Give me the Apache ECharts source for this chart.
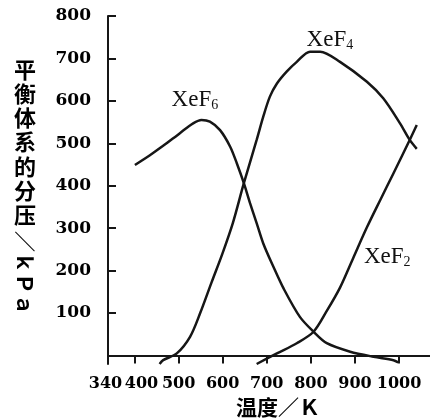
<!DOCTYPE html>
<html>
<head>
<meta charset="utf-8">
<script src="https://cdn.jsdelivr.net/npm/echarts@6/dist/echarts.min.js"></script>
<style>
  html, body { margin: 0; padding: 0; background: #fff; }
  #chart { width: 430px; height: 418px; }
</style>
</head>
<body>
<div id="chart"></div>
<script>
  // 温度 (K) / 分压 (kPa)
  const xef6T = [401, 435, 465, 503, 533, 552, 571, 594, 617, 632, 648, 662, 677, 692, 715, 738, 775, 806, 836, 889, 942, 987, 998]
  const xef6P = [449, 472, 494, 524, 547, 555, 551, 531, 492, 453, 406, 359, 312, 264, 209, 158, 91, 56, 29, 9, -3, -11, -16]

  const xef4T = [457, 465, 496, 526, 549, 575, 599, 623, 648, 677, 692, 707, 723, 745, 768, 798, 821, 866, 927, 964, 1002, 1024, 1040]
  const xef4P = [-20, -11, 5, 44, 100, 173, 239, 312, 406, 508, 563, 610, 641, 669, 692, 716, 716, 692, 645, 606, 547, 508, 487]

  const xef2T = [677, 723, 768, 806, 836, 866, 896, 927, 957, 987, 1024, 1040]
  const xef2P = [-20, 5, 29, 56, 105, 160, 230, 302, 366, 429, 508, 543]

  const subscripts = ['6', '4', '2']
  const seriesNames = subscripts.map((s) => 'XeF' + s)
  // 曲线名的位置（数据坐标）
  const nameAt = [[537, 602], [843, 743], [973, 232]]

  const xTicks = [340, 400, 500, 600, 700, 800, 900, 1000]
  const yTicks = [100, 200, 300, 400, 500, 600, 700, 800]

  const zip = (a, b) => a.map((v, i) => [v, b[i]])
  const curves = [zip(xef6T, xef6P), zip(xef4T, xef4P), zip(xef2T, xef2P)]

  const numFont = '"DejaVu Serif", serif'
  const cjkFont = '"Noto Sans CJK SC", sans-serif'
  const ink = '#161616'

  const chart = echarts.init(document.getElementById('chart'))

  const numStyle = { fontFamily: numFont, fontWeight: 'bold', fontSize: 16, color: '#000' }

  const option = {
    animation: false,
    backgroundColor: '#fff',
    grid: {
      left: 108,
      right: 0,
      top: 16,
      bottom: 54,
      containLabel: false,
      outerBoundsMode: 'none'
    },
    xAxis: {
      type: 'value',
      min: 340,
      max: 1070,
      splitLine: { show: false },
      axisLine: { show: true, lineStyle: { color: ink, width: 2 } },
      axisTick: {
        show: true,
        inside: false,
        length: 8,
        customValues: xTicks.slice(1),
        lineStyle: { color: ink, width: 2 }
      },
      axisLabel: {
        customValues: xTicks,
        margin: 12,
        ...numStyle,
        formatter: (v) => {
          if (v === 340) return '{l|340}'
          if (v === 400) return '{r|400}'
          return String(v)
        },
        rich: {
          l: { ...numStyle, padding: [0, 5, 0, 0] },
          r: { ...numStyle, padding: [0, 0, 0, 14] }
        }
      },
      name: '温度／Ｋ',
      nameLocation: 'middle',
      nameGap: 28,
      nameTextStyle: {
        fontFamily: cjkFont,
        fontWeight: 'bold',
        fontSize: 21,
        color: '#000',
        padding: [0, 0, 0, 18]
      }
    },
    yAxis: {
      type: 'value',
      min: -20,
      max: 800,
      splitLine: { show: false },
      axisLine: { show: true, lineStyle: { color: ink, width: 2 } },
      axisTick: {
        show: true,
        inside: true,
        length: 8,
        customValues: yTicks,
        lineStyle: { color: ink, width: 2 }
      },
      axisLabel: {
        customValues: yTicks,
        margin: 17,
        ...numStyle,
        fontSize: 17
      }
    },
    graphic: [
      {
        type: 'text',
        x: 25,
        y: 57,
        style: {
          text: '平\n衡\n体\n系\n的\n分\n压',
          font: 'bold 22px ' + cjkFont,
          lineHeight: 24.3,
          textAlign: 'center',
          textVerticalAlign: 'top',
          fill: '#000'
        }
      },
      {
        type: 'text',
        x: 25,
        y: 231,
        rotation: -Math.PI / 2,
        style: {
          text: '／ｋＰａ',
          font: 'bold 21px ' + cjkFont,
          textAlign: 'left',
          textVerticalAlign: 'middle',
          fill: '#000'
        }
      }
    ],
    series: curves.map((data, i) => ({
      name: seriesNames[i],
      type: 'line',
      data: data,
      smooth: 0.3,
      symbol: 'none',
      lineStyle: { color: ink, width: 2.5 },
      markPoint: {
        symbol: 'circle',
        symbolSize: 0,
        data: [{ coord: nameAt[i] }],
        label: {
          show: true,
          position: 'inside',
          formatter: () => '{a|XeF}{s|' + subscripts[i] + '}',
          rich: {
            a: { fontFamily: '"Liberation Serif", serif', fontSize: 23, color: '#111', lineHeight: 24 },
            s: { fontFamily: '"Liberation Serif", serif', fontSize: 14, color: '#111', lineHeight: 14, verticalAlign: 'bottom' }
          }
        }
      }
    }))
  }

  chart.setOption(option)
</script>
</body>
</html>
